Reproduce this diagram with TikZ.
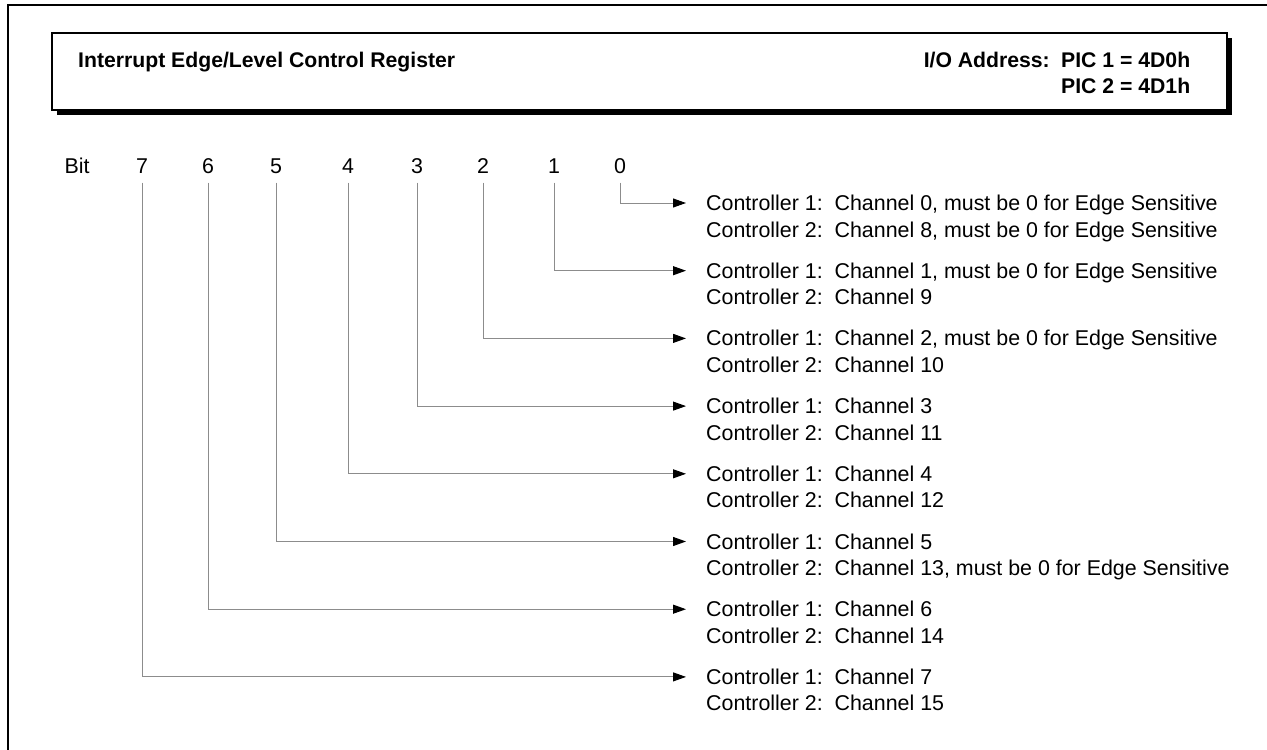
\documentclass[tikz,border=0pt]{standalone}
\usepackage{fontspec}
\setmainfont{Liberation Sans}
\usetikzlibrary{arrows.meta,shadows}
\begin{document}
\begin{tikzpicture}[x=1pt,y=-1pt,
  txt/.style={inner sep=0pt,font=\fontsize{21.4}{26}\selectfont,text height=15pt,text depth=0pt},
  btxt/.style={txt,font=\fontsize{21.2}{26}\selectfont\bfseries},
  desc/.style={txt,anchor=west},
  bitlbl/.style={txt,anchor=center},
  conn/.style={draw=black!45,line width=1pt,-{Triangle[length=13pt,width=9pt,color=black,fill=black]}},
  frame/.style={draw=black,line width=2pt},
  headerbox/.style={draw=black,line width=1.5pt,fill=white,inner sep=0pt,minimum width=1175pt,minimum height=77pt,
     drop shadow={shadow xshift=4.5pt,shadow yshift=-4.5pt,fill=black,opacity=1}}
]
\useasboundingbox (0,0) rectangle (1267,750);
\fill[white] (0,0) rectangle (1267,750);
% outer frame (only top and left edges visible)
\draw[frame] (8,750) -- (8,5) -- (1267,5);
% header
\node[headerbox] (hdr) at (639.5,71.5) {};
\node[btxt,anchor=west] (title) at (78,60) {Interrupt Edge/Level Control Register};
\node[btxt,anchor=east] (ioaddr) at (1050,60) {I/O Address:};
\node[btxt,anchor=west] (pic1) at (1061,60) {PIC 1 = 4D0h};
\node[btxt,anchor=west] (pic2) at (1061,86) {PIC 2 = 4D1h};
% bit labels
\node[bitlbl] (bit) at (77,166) {Bit};
\foreach \b/\x in {7/142,6/208,5/276,4/348,3/417,2/483,1/554,0/620}{
  \node[bitlbl] (b\b) at (\x,166) {\b};
}
% descriptions
\foreach \b/\la/\lb in {
  0/{Channel 0, must be 0 for Edge Sensitive}/{Channel 8, must be 0 for Edge Sensitive},
  1/{Channel 1, must be 0 for Edge Sensitive}/{Channel 9},
  2/{Channel 2, must be 0 for Edge Sensitive}/{Channel 10},
  3/{Channel 3}/{Channel 11},
  4/{Channel 4}/{Channel 12},
  5/{Channel 5}/{Channel 13, must be 0 for Edge Sensitive},
  6/{Channel 6}/{Channel 14},
  7/{Channel 7}/{Channel 15}}{
  \pgfmathsetmacro\yy{203+67.7*\b}
  \node[desc] (d\b) at (706,\yy) {Controller 1:\ \ \la};
  \node[desc] (d\b b) at ([yshift=-26.5pt]d\b.west) {Controller 2:\ \ \lb};
  \draw[conn] ([yshift=-9pt]b\b.south) |- ([xshift=-20pt]d\b.west);
}
\end{tikzpicture}
\end{document}
